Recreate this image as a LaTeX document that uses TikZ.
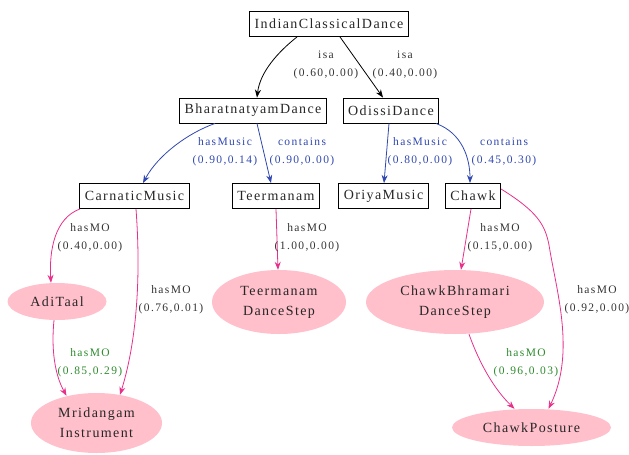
\documentclass[tikz,border=0pt]{standalone}
\usepackage{fontspec}
\setmainfont{Liberation Serif}
\newfontfamily\nodefont[LetterSpace=10]{Liberation Serif}
\newfontfamily\labfont[LetterSpace=12]{Liberation Serif}
\usetikzlibrary{arrows.meta,shapes.geometric}
\definecolor{pinkfill}{HTML}{FFC0CB}
\definecolor{pinkedge}{HTML}{E8308A}
\definecolor{blueedge}{HTML}{3048B0}
\definecolor{greenlab}{HTML}{2E8B2E}
\definecolor{graylab}{HTML}{333333}
\begin{document}
\begin{tikzpicture}[x=1pt,y=-1pt,
  boxnode/.style={draw=black,line width=0.9pt,rectangle,inner xsep=5pt,minimum height=25pt,
    font=\nodefont\fontsize{14}{19}\selectfont,text=black!85},
  ellnode/.style={ellipse,fill=pinkfill,inner sep=0pt,align=center,
    font=\nodefont\fontsize{14}{20}\selectfont,text=black!85},
  lab/.style={font=\labfont\fontsize{11.5}{18}\selectfont,align=center,text=graylab},
  glab/.style={lab,text=greenlab},
  blab/.style={lab,text=blueedge},
  blackedge/.style={draw=black,line width=0.8pt,-{Stealth[length=8pt,width=6pt]}},
  bluee/.style={draw=blueedge,line width=0.8pt,-{Stealth[length=8pt,width=6pt]}},
  pinke/.style={draw=pinkedge,line width=0.8pt,-{Stealth[length=8pt,width=6pt]}}
]
\useasboundingbox (0,0) rectangle (629,455);
% boxes
\node[boxnode] (icd) at (329,24) {IndianClassicalDance};
\node[boxnode] (bh) at (253,110.5) {BharatnatyamDance};
\node[boxnode] (od) at (391,110.5) {OdissiDance};
\node[boxnode] (cm) at (134.5,196) {CarnaticMusic};
\node[boxnode] (tm) at (276,196) {Teermanam};
\node[boxnode] (om) at (383.5,196) {OriyaMusic};
\node[boxnode] (ch) at (473,196) {Chawk};
% ellipses
\node[ellnode,minimum width=99pt,minimum height=37pt] (ad) at (57,301.5) {AdiTaal};
\node[ellnode,minimum width=134pt,minimum height=64pt] (tds) at (279,302) {Teermanam\\DanceStep};
\node[ellnode,minimum width=131pt,minimum height=60pt] (mr) at (96.5,423) {Mridangam\\Instrument};
\node[ellnode,minimum width=178pt,minimum height=64pt] (cbd) at (455,302) {ChawkBhramari\\DanceStep};
\node[ellnode,minimum width=159pt,minimum height=37pt] (cp) at (531.5,427.5) {ChawkPosture};
% edges
\draw[blackedge] ([xshift=-32pt]icd.south) .. controls (278,52) and (260,72) .. ([xshift=4pt]bh.north);
\draw[blackedge] ([xshift=11pt]icd.south) -- ([xshift=-8pt]od.north);
\draw[bluee] ([xshift=-38pt]bh.south) .. controls (188,133) and (158,155) .. ([xshift=8.5pt]cm.north);
\draw[bluee] ([xshift=4pt]bh.south) -- ([xshift=-5pt]tm.north);
\draw[bluee] ([xshift=-2pt]od.south) -- ([xshift=0.5pt]om.north);
\draw[bluee] ([xshift=45pt]od.south) .. controls (462,133) and (470,158) .. ([xshift=-3pt]ch.north);
\draw[pinke] ([xshift=-54.5pt]cm.south) .. controls (55,218) and (49,250) .. ([xshift=-6pt]ad.north);
\draw[pinke] ([xshift=1.5pt]cm.south) .. controls (142,290) and (134,350) .. ([xshift=23.5pt,yshift=-2pt]mr.north);
\draw[pinke] ([xshift=-3pt]ad.south) .. controls (51,350) and (55,375) .. ([xshift=-30pt,yshift=-3pt]mr.north);
\draw[pinke] (tm.south) -- ([xshift=-1pt]tds.north);
\draw[pinke] ([xshift=-2pt]ch.south) -- ([xshift=6pt]cbd.north);
\draw[pinke] ([yshift=7pt]ch.east) .. controls (538,212) and (545,225) .. (549,245) .. controls (556,290) and (576,352) .. ([xshift=17pt]cp.north);
\draw[pinke] ([xshift=14pt]cbd.south) .. controls (480,365) and (495,390) .. ([xshift=-17pt]cp.north);
% labels
\node[lab] (l1) at (326,65) {isa\\(0.60,0.00)};
\node[lab] (l2) at (405,65) {isa\\(0.40,0.00)};
\node[blab] (l3) at (225,152) {hasMusic\\(0.90,0.14)};
\node[blab] (l4) at (302,152) {contains\\(0.90,0.00)};
\node[blab] (l5) at (420,152) {hasMusic\\(0.80,0.00)};
\node[blab] (l6) at (504,152) {contains\\(0.45,0.30)};
\node[lab] (l7) at (90,237.5) {hasMO\\(0.40,0.00)};
\node[lab] (l8) at (171,299.5) {hasMO\\(0.76,0.01)};
\node[glab] (l9) at (90,363) {hasMO\\(0.85,0.29)};
\node[lab] (l10) at (307,237.5) {hasMO\\(1.00,0.00)};
\node[lab] (l11) at (500,237.5) {hasMO\\(0.15,0.00)};
\node[lab] (l12) at (597,299.5) {hasMO\\(0.92,0.00)};
\node[glab] (l13) at (526,363) {hasMO\\(0.96,0.03)};
\end{tikzpicture}
\end{document}
